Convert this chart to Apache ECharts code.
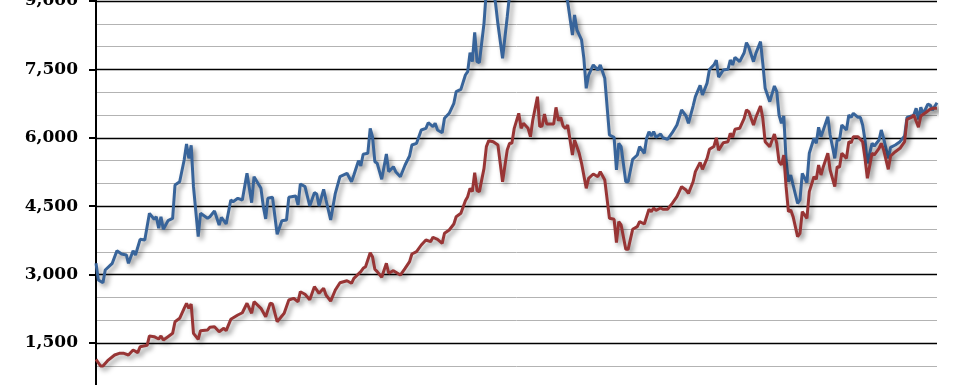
<!DOCTYPE html>
<html>
<head>
<meta charset="utf-8">
<script src="https://cdn.jsdelivr.net/npm/echarts@6/dist/echarts.min.js"></script>
<style>
html,body{margin:0;padding:0;background:#fff;}
#chart{width:967px;height:385px;}
</style>
</head>
<body>
<div id="chart"></div>
<script>
// Months counted from January 1984
const realMonths = [0,1,3,4,7,9,11,13,14,16,17,19,21,23,25,26,27,28,29,31,33,34,36,38,39,40,41,42,44,45,48,49,51,53,54,56,58,59,61,63,65,67,68,71,72,73,74,76,78,80,82,83,86,87,88,90,92,94,95,96,98,99,101,103,105,108,110,111,113,114,115,117,118,119,120,121,123,125,126,128,129,131,133,135,136,138,140,142,143,145,146,147,149,150,152,154,155,157,159,160,161,162,163,164,165,167,168,169,170,171,172,173,175,177,178,179,180,182,183,184,186,187,188,190,191,192,193,194,197,198,199,200,201,203,205,206,207,209,210,211,212,214,216,217,219,221,223,224,225,226,228,229,231,233,234,236,237,238,239,240,241,243,244,246,248,250,252,254,255,257,258,260,261,263,264,266,267,268,270,272,273,274,275,277,279,280,281,283,284,286,287,288,290,292,293,294,295,296,297,298,299,300,302,303,304,306,307,309,310,311,312,313,315,316,318,319,320,321,323,324,325,326,328,329,330,331,332,334,335,337,338,339,341,342,344,346,348,349,351,352,353,354,355,356,358,359,360,362];
const realValues = [3248,2882,2822,3101,3248,3524,3452,3430,3248,3524,3430,3774,3759,4344,4213,4270,4016,4270,3993,4182,4234,4965,5037,5513,5864,5549,5836,4928,3832,4344,4234,4270,4395,4088,4256,4110,4636,4599,4673,4636,5221,4577,5147,4892,4490,4220,4673,4695,3884,4182,4197,4695,4724,4526,4987,4930,4504,4797,4767,4504,4870,4636,4197,4782,5147,5221,5037,5184,5498,5382,5638,5660,6208,6024,5476,5441,5090,5645,5257,5367,5257,5147,5404,5601,5842,5879,6171,6208,6331,6244,6318,6171,6112,6427,6537,6757,7011,7063,7377,7450,7866,7669,8313,7669,7647,8511,9250,9600,9450,9250,8950,8500,7744,8650,9150,9200,9600,10100,9600,9750,9600,9300,9850,10600,9650,9650,10000,9650,9650,10200,9750,9850,9300,8985,8254,8693,8364,8145,7743,7085,7377,7597,7487,7597,7305,6061,6010,5294,5879,5806,5037,5037,5528,5623,5806,5660,5989,6135,6040,6135,6010,6083,6002,5967,6112,6281,6610,6478,6318,6697,6902,7150,6939,7200,7495,7600,7700,7330,7487,7502,7706,7597,7765,7669,7866,8086,7985,7669,7852,8108,7634,7085,6792,7136,7011,6500,6318,6478,5513,5037,5184,4965,4563,4636,5221,5016,5660,5989,5879,6230,6024,6171,6463,6061,5549,5952,5952,6281,6171,6500,6449,6537,6449,6449,6281,5952,5441,5879,5820,5952,6171,5989,5549,5791,5842,5915,6040,6449,6478,6500,6647,6405,6668,6522,6741,6719,6610,6770];

const nominalMonths = [0,2,3,5,8,10,12,14,16,18,19,22,23,25,27,28,29,31,33,34,36,38,39,40,41,42,44,45,48,49,51,53,55,56,58,61,63,65,67,68,71,73,75,76,78,81,83,85,87,88,90,92,94,96,98,99,101,103,105,108,110,111,114,115,116,118,119,120,121,123,125,126,128,131,133,135,136,138,140,142,144,145,147,149,150,152,154,155,157,159,160,161,162,163,164,165,167,168,169,171,173,175,177,178,179,180,182,183,184,186,187,188,190,191,192,193,194,197,198,199,200,201,202,203,205,206,208,209,211,212,214,216,217,219,221,223,224,225,226,228,229,231,233,234,236,237,238,239,240,241,243,244,246,248,250,252,254,255,257,258,260,261,263,264,266,267,268,270,272,273,274,275,277,279,280,281,283,284,286,287,288,290,292,293,294,295,296,297,298,299,300,302,303,304,306,307,309,310,311,312,313,315,316,318,319,320,321,323,324,325,326,328,330,331,332,334,335,337,338,339,341,342,344,346,348,349,351,352,354,355,357,359,360,362];
const nominalValues = [1142,995,995,1112,1237,1274,1274,1237,1346,1288,1419,1450,1654,1639,1588,1654,1566,1639,1712,1967,2041,2261,2371,2261,2355,1712,1581,1770,1785,1844,1858,1748,1822,1770,2019,2114,2164,2371,2151,2406,2261,2077,2371,2355,1967,2151,2443,2480,2406,2625,2570,2450,2735,2590,2700,2553,2420,2662,2822,2866,2809,2919,3064,3138,3174,3481,3393,3116,3064,2941,3248,3029,3086,2991,3138,3283,3452,3502,3649,3759,3722,3818,3774,3686,3906,3978,4110,4270,4344,4621,4709,4892,4819,5235,4841,4819,5330,5806,5937,5915,5842,5037,5733,5879,5879,6208,6537,6208,6318,6208,6024,6390,6902,6244,6259,6522,6303,6303,6668,6376,6449,6259,6208,6281,5623,5952,5660,5441,4892,5112,5206,5147,5257,5075,4234,4213,3700,4160,4088,3554,3554,3993,4051,4160,4110,4270,4432,4380,4460,4410,4460,4432,4432,4563,4709,4928,4855,4782,5037,5257,5460,5308,5550,5748,5810,6000,5725,5893,5915,6098,6010,6186,6208,6427,6610,6573,6281,6449,6697,6427,5915,5806,6083,5879,5476,5404,5623,4928,4380,4417,4270,3832,3906,4380,4234,4819,5147,5090,5404,5184,5367,5660,5294,4928,5367,5352,5660,5549,5915,5893,6024,6024,5915,5549,5112,5660,5623,5769,5879,5733,5308,5601,5696,5769,5915,6405,6449,6500,6230,6478,6551,6625,6647,6647];

const yTicks = [0, 1500, 3000, 4500, 6000, 7500, 9000, 10500];

function toPairs(months, values) {
  return months.map((m, i) => [Date.UTC(1984, m, 1), values[i]]);
}

const chart = echarts.init(document.getElementById('chart'), null, {renderer: 'canvas'});
const shadow = {shadowColor: 'rgba(0,0,0,0.42)', shadowBlur: 5, shadowOffsetX: 3, shadowOffsetY: 3};

chart.setOption({
  animation: false,
  backgroundColor: '#ffffff',
  grid: {left: 96, right: 30, top: -67.4, bottom: -26.4, outerBoundsMode: 'none', containLabel: false},
  xAxis: {
    type: 'time',
    min: Date.UTC(1984, 0, 1),
    max: Date.UTC(1984, 362, 1),
    axisLine: {show: false},
    axisTick: {show: false},
    axisLabel: {show: false},
    splitLine: {show: false}
  },
  yAxis: [
    {
      type: 'value',
      min: yTicks[0],
      max: yTicks[yTicks.length - 1],
      interval: 1500,
      z: 3,
      axisLine: {show: true, onZero: false, lineStyle: {color: '#000', width: 2}},
      axisTick: {show: true, length: 7, lineStyle: {color: '#000', width: 2}},
      axisLabel: {
        margin: 18,
        color: '#000',
        fontFamily: 'DejaVu Serif',
        fontWeight: 'bold',
        fontSize: 17,
        formatter: v => v === 0 ? '' : v.toLocaleString('en-US')
      },
      splitLine: {show: true, lineStyle: {color: '#000', width: 1.3}}
    },
    {
      type: 'value',
      min: yTicks[0],
      max: yTicks[yTicks.length - 1],
      interval: 500,
      z: 1,
      axisLine: {show: false},
      axisTick: {show: false},
      axisLabel: {show: false},
      splitLine: {show: true, lineStyle: {color: '#b3b3b3', width: 1}}
    }
  ],
  series: [
    {
      name: 'Real',
      type: 'line',
      data: toPairs(realMonths, realValues),
      showSymbol: false,
      symbol: 'none',
      lineStyle: Object.assign({color: '#38649a', width: 3}, shadow),
      z: 3
    },
    {
      name: 'Nominal',
      type: 'line',
      data: toPairs(nominalMonths, nominalValues),
      showSymbol: false,
      symbol: 'none',
      lineStyle: Object.assign({color: '#983535', width: 3}, shadow),
      z: 4
    }
  ]
});
</script>
</body>
</html>
